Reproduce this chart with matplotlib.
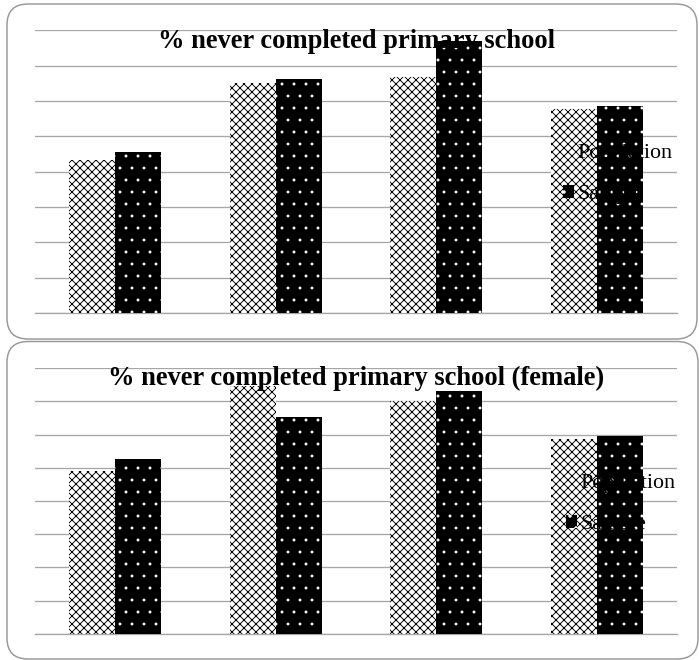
import matplotlib
matplotlib.use("Agg")
import matplotlib.pyplot as plt
from matplotlib.patches import FancyBboxPatch

# survey regions (not labelled on the chart)
regions = ["Region 1", "Region 2", "Region 3", "Region 4"]

# % never completed primary school
all_population = [43.3, 65.0, 66.7, 57.6]
all_sample = [45.6, 66.2, 77.0, 58.6]

# % never completed primary school, females only
female_population = [49.0, 74.6, 70.1, 58.6]
female_sample = [52.7, 65.4, 73.2, 59.5]

W, H, DPI = 699, 660, 72
plt.rcParams["font.family"] = ["Liberation Serif", "DejaVu Serif"]

fig = plt.figure(figsize=(W / DPI, H / DPI), dpi=DPI)


def px_axes(left, top, right, bottom):
    # axes rectangle given in pixels from the top-left corner
    return fig.add_axes([left / W, 1 - bottom / H, (right - left) / W, (bottom - top) / H])


def panel(ax, title, pop, samp, legend_x, legend_y):
    x = range(len(regions))
    w = 0.287
    with plt.rc_context({"hatch.linewidth": 0.9}):
        ax.bar([i - w / 2 for i in x], pop, width=w, color="white", edgecolor="black",
               linewidth=0, hatch="xxx", label="Population", zorder=2)
    with plt.rc_context({"hatch.linewidth": 0.4}):
        ax.bar([i + w / 2 for i in x], samp, width=w, color="black", edgecolor="white",
               linewidth=0, hatch=".", label="Sample", zorder=2)
    ax.set_xlim(-0.5, len(regions) - 0.5)
    ax.set_ylim(-0.05, 80.05)
    ax.set_yticks(range(0, 90, 10))
    ax.set_xticks([])
    ax.yaxis.grid(True, color="#a6a6a6", linewidth=1.3)
    ax.axhline(0, color="#a6a6a6", linewidth=1.3, zorder=1.5, clip_on=False)
    ax.set_axisbelow(True)
    ax.tick_params(length=0, labelleft=False)
    for s in ax.spines.values():
        s.set_visible(False)
    ax.set_facecolor("none")
    ax.text(0.5, 0.96, title, transform=ax.transAxes, ha="center", va="center",
            fontsize=26.5, fontweight="bold", zorder=5)
    leg = ax.legend(loc="center left", bbox_to_anchor=(legend_x / W, 1 - legend_y / H),
                    bbox_transform=fig.transFigure, frameon=False, fontsize=22,
                    handlelength=0.5, handleheight=0.5, handletextpad=0.14,
                    labelspacing=1.03, borderpad=0, borderaxespad=0)
    leg.set_zorder(6)


ax1 = px_axes(35, 30, 677, 313.3)
panel(ax1, "% never completed primary school", all_population, all_sample, 563, 174)

ax2 = px_axes(35, 368, 677, 634)
panel(ax2, "% never completed primary school (female)", female_population, female_sample, 566, 504)

# rounded frames around each chart
for top, bottom, right in [(4, 339, 697), (341.5, 659, 698)]:
    box = FancyBboxPatch((7 / DPI, (H - bottom) / DPI), (right - 7) / DPI, (bottom - top) / DPI,
                         boxstyle="round,pad=0,rounding_size=%f" % (21 / DPI),
                         transform=fig.dpi_scale_trans, facecolor="none",
                         edgecolor="#9a9a9a", linewidth=1.5)
    fig.add_artist(box)

fig.savefig("out.png", dpi=DPI)
